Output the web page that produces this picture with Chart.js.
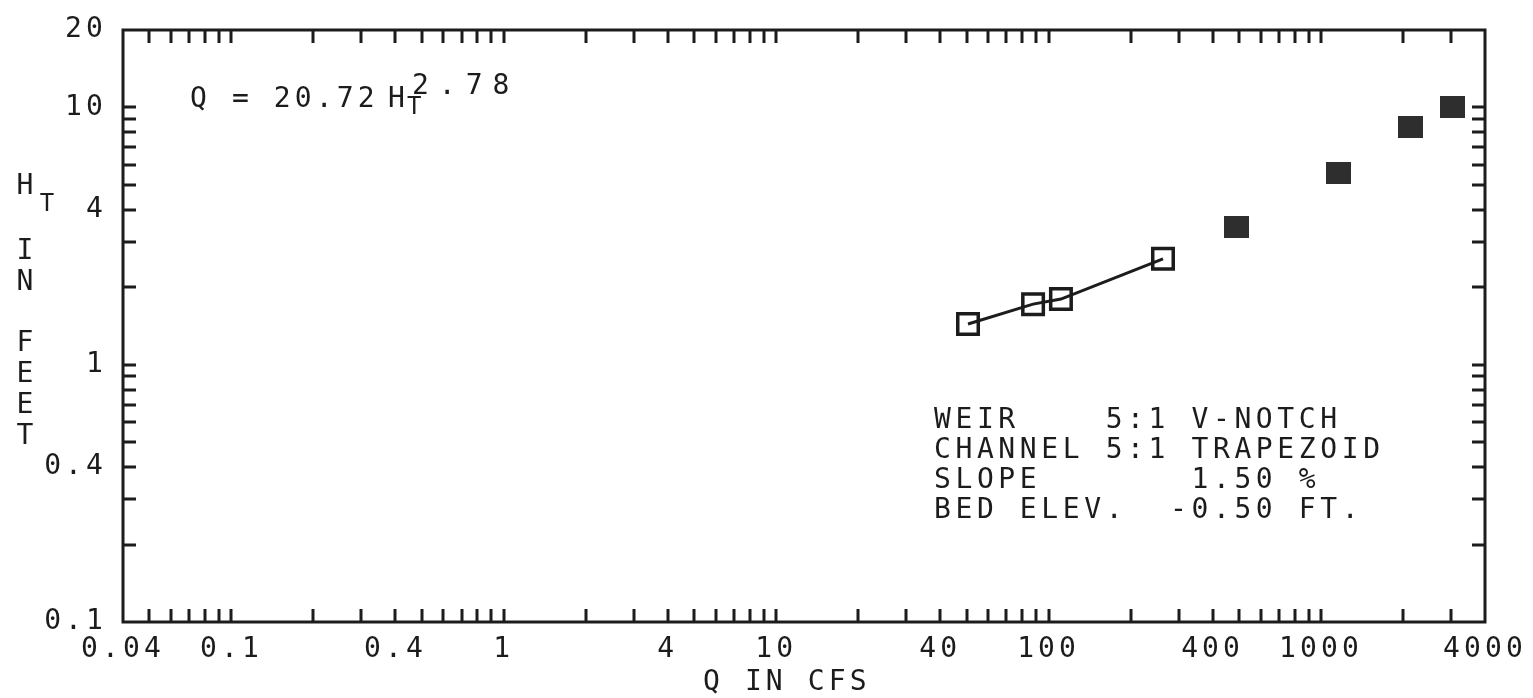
<!DOCTYPE html>
<html>
<head>
<meta charset="utf-8">
<script src="https://cdn.jsdelivr.net/npm/chart.js@4/dist/chart.umd.min.js"></script>
<style>
  html, body { margin: 0; padding: 0; background: #ffffff; }
  #wrap { width: 1533px; height: 698px; }
</style>
</head>
<body>
<div id="wrap"><canvas id="c" width="1533" height="698"></canvas></div>
<script>
// ---- data ----
const qOpen   = [50.6, 87.7, 111, 263];      // Q in CFS (open squares, fitted line)
const hOpen   = [1.44, 1.72, 1.80, 2.58];    // H_T in feet
const qFilled = [488, 1164, 2139, 3027];     // Q in CFS (filled squares)
const hFilled = [3.43, 5.56, 8.40, 10.04];   // H_T in feet

// ---- axis ticks / labels ----
const xTickValues = [0.04, 0.05, 0.06, 0.07, 0.08, 0.09,
  0.1, 0.2, 0.3, 0.4, 0.5, 0.6, 0.7, 0.8, 0.9,
  1, 2, 3, 4, 5, 6, 7, 8, 9,
  10, 20, 30, 40, 50, 60, 70, 80, 90,
  100, 200, 300, 400, 500, 600, 700, 800, 900,
  1000, 2000, 3000, 4000];
const xLabelValues = [0.04, 0.1, 0.4, 1, 4, 10, 40, 100, 400, 1000, 4000];
const xLabels      = ["0.04", "0.1", "0.4", "1", "4", "10", "40", "100", "400", "1000", "4000"];

const yTickValues = [0.1, 0.2, 0.3, 0.4, 0.5, 0.6, 0.7, 0.8, 0.9,
  1, 2, 3, 4, 5, 6, 7, 8, 9, 10, 20];
const yLabelValues = [0.1, 0.4, 1, 4, 10, 20];
const yLabels      = ["0.1", "0.4", "1", "4", "10", "20"];

const xTitle = "Q IN CFS";
const yTitleMain = "H";
const yTitleSub = "T";
const yTitleRest = [["I", 259], ["N", 290], ["F", 351], ["E", 382], ["E", 413], ["T", 444]];
const eqMain = "Q = 20.72";
const eqH = "H";
const eqSub = "T";
const eqSup = "2.78";
const infoLines = [
  "WEIR    5:1 V-NOTCH",
  "CHANNEL 5:1 TRAPEZOID",
  "SLOPE       1.50 %",
  "BED ELEV.  -0.50 FT."
];

// ---- styling ----
const INK = '#1c1c1c';
const FONT = '"DejaVu Sans Mono", "Liberation Mono", monospace';
const FSIZE = 28;
const SPACING = '4.1px';

function labelFor(values, labels, v) {
  for (let i = 0; i < values.length; i++) {
    if (Math.abs(values[i] - v) / values[i] < 1e-6) return labels[i];
  }
  return '';
}

// filled marker image
const filledMark = document.createElement('canvas');
filledMark.width = 25; filledMark.height = 22;
(function () {
  const g = filledMark.getContext('2d');
  g.fillStyle = '#2e2e2e';
  g.fillRect(0, 0, 25, 22);
})();

function zeroPad(s) { s.paddingLeft = 0; s.paddingRight = 0; s.paddingTop = 0; s.paddingBottom = 0; }

const frameAndText = {
  id: 'frameAndText',
  beforeUpdate(chart) { chart.ctx.letterSpacing = SPACING; },
  beforeDraw(chart) { chart.ctx.letterSpacing = SPACING; },
  beforeDatasetsDraw(chart) {
    const ctx = chart.ctx;
    const a = chart.chartArea;
    const xs = chart.scales.x, ys = chart.scales.y;
    ctx.save();
    ctx.strokeStyle = INK;
    ctx.lineWidth = 3;
    ctx.lineCap = 'butt';
    ctx.strokeRect(a.left, a.top, a.right - a.left, a.bottom - a.top);
    const TL = 13;
    ctx.beginPath();
    xTickValues.forEach(v => {
      const px = Math.round(xs.getPixelForValue(v));
      if (px <= a.left + 1 || px >= a.right - 1) return;
      ctx.moveTo(px, a.bottom); ctx.lineTo(px, a.bottom - TL);
      ctx.moveTo(px, a.top); ctx.lineTo(px, a.top + TL);
    });
    yTickValues.forEach(v => {
      const py = Math.round(ys.getPixelForValue(v));
      if (py <= a.top + 1 || py >= a.bottom - 1) return;
      ctx.moveTo(a.left, py); ctx.lineTo(a.left + TL, py);
      ctx.moveTo(a.right, py); ctx.lineTo(a.right - TL, py);
    });
    ctx.stroke();
    ctx.restore();
  },
  afterDraw(chart) {
    const ctx = chart.ctx;
    const big = FSIZE + 'px ' + FONT;
    const small = (FSIZE - 4) + 'px ' + FONT;
    ctx.save();
    ctx.fillStyle = INK;
    ctx.textAlign = 'left';
    ctx.textBaseline = 'alphabetic';
    ctx.font = big;
    ctx.letterSpacing = SPACING;
    // equation
    ctx.fillText(eqMain, 190, 107);
    ctx.fillText(eqH, 388, 107);
    ctx.font = small;
    ctx.fillText(eqSub, 407, 114);
    ctx.font = big;
    ctx.letterSpacing = '10px';
    ctx.fillText(eqSup, 412, 94);
    // info block
    ctx.letterSpacing = '4.6px';
    infoLines.forEach((t, i) => ctx.fillText(t, 934, 428 + i * 30));
    ctx.letterSpacing = SPACING;
    // x title
    ctx.fillText(xTitle, 703, 690);
    // y title (stacked)
    ctx.textAlign = 'center';
    ctx.letterSpacing = '0px';
    ctx.fillText(yTitleMain, 25, 194);
    ctx.font = small;
    ctx.fillText(yTitleSub, 47, 211);
    ctx.font = big;
    yTitleRest.forEach(([ch, y]) => ctx.fillText(ch, 25, y));
    ctx.restore();
  }
};

new Chart(document.getElementById('c'), {
  type: 'scatter',
  data: {
    datasets: [
      {
        label: 'open',
        data: qOpen.map((q, i) => ({ x: q, y: hOpen[i] })),
        showLine: true,
        borderColor: INK,
        borderWidth: 3,
        backgroundColor: 'rgba(0,0,0,0)',
        pointStyle: 'rect',
        pointRadius: 14.5,
        pointBorderWidth: 3.5,
        pointBorderColor: INK,
        pointBackgroundColor: 'rgba(0,0,0,0)',
        tension: 0
      },
      {
        label: 'filled',
        data: qFilled.map((q, i) => ({ x: q, y: hFilled[i] })),
        showLine: false,
        pointStyle: filledMark,
        pointRadius: 12
      }
    ]
  },
  options: {
    responsive: false,
    devicePixelRatio: 1,
    animation: false,
    events: [],
    layout: { padding: { top: 30, right: 48, left: 0, bottom: 0 } },
    plugins: { legend: { display: false }, tooltip: { enabled: false }, title: { display: false } },
    scales: {
      x: {
        type: 'logarithmic',
        position: 'bottom',
        min: 0.04, max: 4000,
        grid: { display: false, drawTicks: false },
        border: { display: false },
        afterBuildTicks: s => { s.ticks = xTickValues.map(v => ({ value: v })); },
        afterFit: s => { s.height = 76; zeroPad(s); },
        ticks: {
          autoSkip: false, maxRotation: 0, minRotation: 0,
          padding: 11,
          color: INK,
          font: { family: FONT, size: FSIZE },
          callback: v => labelFor(xLabelValues, xLabels, v)
        }
      },
      y: {
        type: 'logarithmic',
        position: 'left',
        min: 0.1, max: 20,
        grid: { display: false, drawTicks: false },
        border: { display: false },
        afterBuildTicks: s => { s.ticks = yTickValues.map(v => ({ value: v })); },
        afterFit: s => { s.width = 123; zeroPad(s); },
        ticks: {
          autoSkip: false,
          padding: 16,
          color: INK,
          font: { family: FONT, size: FSIZE },
          callback: v => labelFor(yLabelValues, yLabels, v)
        }
      }
    }
  },
  plugins: [frameAndText]
});
</script>
</body>
</html>
